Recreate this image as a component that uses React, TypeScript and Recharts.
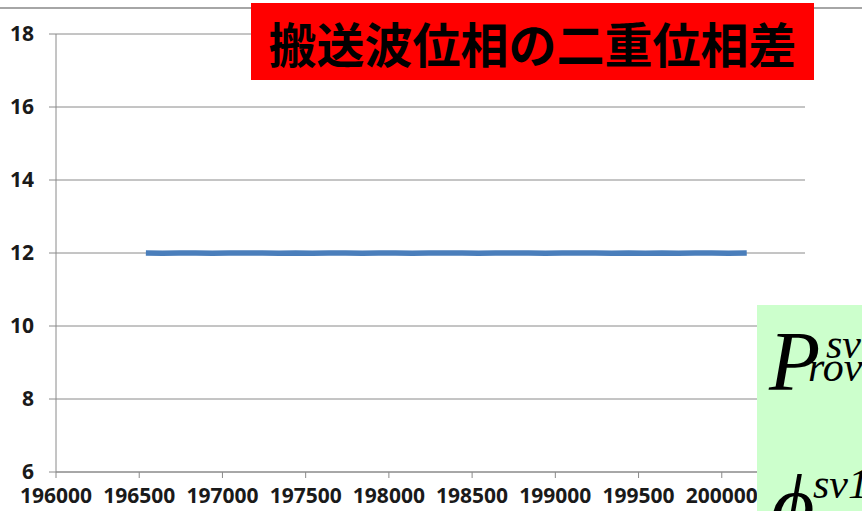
import { LineChart, Line, XAxis, YAxis, CartesianGrid } from 'recharts';

const epochs = [
  196540, 196640, 196740, 196840, 196940, 197040, 197140, 197240, 197340, 197440,
  197540, 197640, 197740, 197840, 197940, 198040, 198140, 198240, 198340, 198440,
  198540, 198640, 198740, 198840, 198940, 199040, 199140, 199240, 199340, 199440,
  199540, 199640, 199740, 199840, 199940, 200040, 200150,
];
const doubleDiff = [
  12.0, 11.99, 12.0, 12.0, 11.99, 12.0, 12.0, 12.0, 11.99, 12.0,
  11.99, 12.0, 12.0, 11.99, 12.0, 12.0, 11.99, 12.0, 12.0, 12.0,
  11.99, 12.0, 12.0, 12.0, 11.99, 12.0, 12.0, 12.0, 11.99, 12.0,
  11.99, 12.0, 11.99, 12.0, 12.0, 11.99, 12.0,
];
const xTicks = [196000, 196500, 197000, 197500, 198000, 198500, 199000, 199500, 200000, 200500];
const yTicks = [6, 8, 10, 12, 14, 16, 18];
const title = '搬送波位相の二重位相差';

const data = epochs.map((t, i) => ({ t, v: doubleDiff[i] }));

const tickStyle = { fill: '#1a1a1a', fontSize: 21, fontWeight: 700, fontFamily: '"Open Sans"' };

export default function App() {
  return (
    <div style={{ position: 'absolute', left: 0, top: 0, width: 862, height: 511, background: '#fff', overflow: 'hidden' }}>
      <div style={{ position: 'absolute', left: 0, top: 7, width: 862, height: 2, background: '#a6a6a6' }} />
      <LineChart width={862} height={511} data={data} margin={{ top: 34, right: 57, left: 0, bottom: 0 }}>
        <CartesianGrid horizontal vertical={false} stroke="#8a8a8a" />
        <XAxis
          dataKey="t"
          type="number"
          domain={[196000, 200500]}
          ticks={xTicks}
          interval={0}
          height={39}
          stroke="#8a8a8a"
          tickSize={6}
          tickMargin={10}
          tick={tickStyle}
        />
        <YAxis
          type="number"
          domain={[6, 18]}
          ticks={yTicks}
          interval={0}
          width={56}
          stroke="#8a8a8a"
          tickSize={7}
          tickMargin={15}
          tick={tickStyle}
        />
        <Line
          dataKey="v"
          type="linear"
          stroke="#4a7ebb"
          strokeWidth={5.5}
          dot={false}
          isAnimationActive={false}
        />
      </LineChart>
      <div
        style={{
          position: 'absolute', left: 251, top: 3, width: 563, height: 77, background: '#ff0000',
          display: 'flex', alignItems: 'center', justifyContent: 'center',
          fontFamily: '"Noto Sans CJK JP"', fontWeight: 700, fontSize: 48, color: '#000',
        }}
      >
        {title}
      </div>
      <svg style={{ position: 'absolute', left: 757, top: 305 }} width={105} height={206}>
        <rect x={0} y={0} width={105} height={206} fill="#ccffcc" />
        <g fontFamily="Liberation Serif" fontStyle="italic" fill="#000">
          <text x={12} y={85} fontSize={84}>P</text>
          <text x={69} y={53} fontSize={42}>sv</text>
          <text x={51} y={76} fontSize={42}>rov</text>
          <text x={14} y={228} fontSize={84}>ϕ</text>
          <text x={56} y={193} fontSize={42}>sv1</text>
        </g>
      </svg>
    </div>
  );
}
